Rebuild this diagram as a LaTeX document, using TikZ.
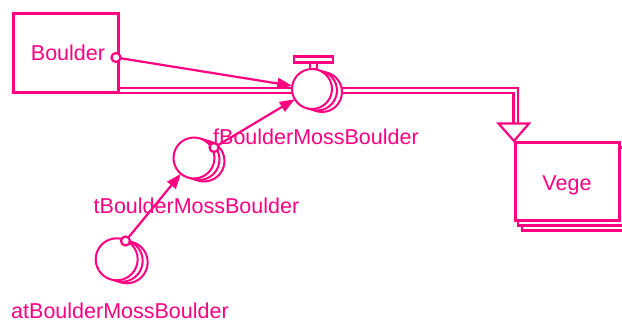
\documentclass[tikz,border=0pt]{standalone}
\usepackage{fontspec}
\setmainfont{Liberation Sans}
\usetikzlibrary{arrows.meta}
\definecolor{vpink}{RGB}{255,0,128}
\begin{document}
\begin{tikzpicture}[x=1pt,y=-1pt,
  stock/.style={draw=vpink, fill=white, line width=3pt, minimum width=104.6pt, minimum height=78pt, inner sep=0pt, outer sep=0pt},
  lbl/.style={text=vpink, font=\fontsize{21.5}{25}\selectfont, inner sep=0pt, anchor=base},
  aux/.style={circle, draw=vpink, line width=2pt, fill=white, inner sep=0pt, outer sep=0pt},
  pin/.style={circle, draw=vpink, line width=2.2pt, fill=white, minimum size=9pt, inner sep=0pt, outer sep=0pt},
  link/.style={draw=vpink, line width=2.2pt, -{Triangle[length=15pt,width=11pt]}},
  pipe/.style={draw=vpink, line width=2.2pt}
]
\clip (0,0) rectangle (622,321);
% flow pipe
\coordinate (p1a) at (118,88);
\coordinate (p1b) at (118,92.8);
\coordinate (tA) at (518,123.5);
\coordinate (tB) at (513.5,123.5);
\draw[pipe] (p1a) -| (tA);
\draw[pipe] (p1b) -| (tB);
\draw[pipe, fill=white] (498.5,123.5) -- (529,123.5) -- (514,141) -- cycle;
% stocks
\node[stock, minimum width=104.7pt, minimum height=79.5pt] (boulder) at (65.65,53.05) {};
\node[stock, line width=2.5pt] (vs2) at (574.5,191.5) {};
\node[stock, line width=2.5pt] (vs1) at (570.5,186.5) {};
\node[stock] (vege) at (567.5,181.5) {};
% valve
\draw[pipe, fill=white] (310,69) rectangle (317,62.5);
\draw[pipe, fill=white] (294,56.5) rectangle (333,62.5);
\node[aux, minimum size=40pt] (vs2c) at (322,92) {};
\node[aux, minimum size=40pt] (vs1c) at (317,90.5) {};
\node[aux, minimum size=40pt] (valve) at (312,89) {};
% auxiliary t
\node[aux, minimum size=41pt] (ts2) at (204,161) {};
\node[aux, minimum size=41pt] (ts1) at (199,159.5) {};
\node[aux, minimum size=41pt] (tcirc) at (194,158) {};
% auxiliary at
\node[aux, minimum size=42pt] (as2) at (126.7,262.3) {};
\node[aux, minimum size=42pt] (as1) at (121.7,260.8) {};
\node[aux, minimum size=42pt] (acirc) at (116.7,259.3) {};
% pins
\node[pin] (bo) at (116,57.5) {};
\node[pin] (to) at (214,147.5) {};
\node[pin] (ao) at (125.5,241) {};
% links
\draw[link] (bo) -- (valve);
\draw[link] (to) -- (valve);
\draw[link] (ao) -- (tcirc);
% labels
\node[lbl] (lb) at (68,61) {Boulder};
\node[lbl] (lv) at (567,190.7) {Vege};
\node[lbl] (lf) at (316,144) {fBoulderMossBoulder};
\node[lbl] (lt) at (196.5,213) {tBoulderMossBoulder};
\node[lbl] (la) at (120,318) {atBoulderMossBoulder};
\end{tikzpicture}
\end{document}
